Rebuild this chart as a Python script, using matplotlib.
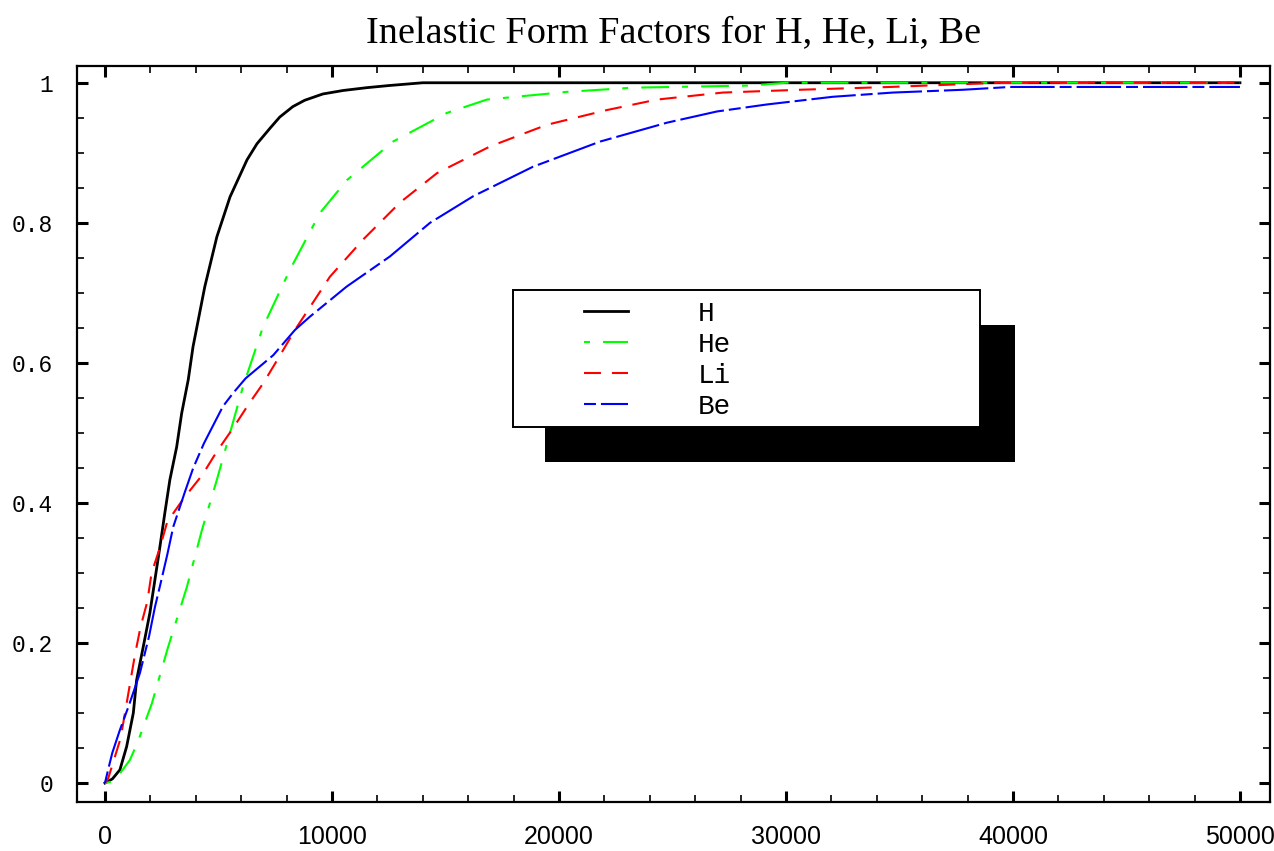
import matplotlib
matplotlib.use("Agg")
import matplotlib.pyplot as plt
from matplotlib.patches import Rectangle

# values
h_x = [0, 330, 660, 955, 1250, 1395, 1690, 1980, 2200, 2420, 2640, 2860, 3160, 3380,
       3670, 3880, 4400, 4930, 5510, 6260, 6700, 7270, 7700, 8280, 8800, 9600, 10500,
       11540, 12500, 14000, 20000, 30000, 40000, 50000]
h_y = [0, 0.006, 0.019, 0.052, 0.10, 0.147, 0.195, 0.243, 0.29, 0.337, 0.386, 0.433,
       0.48, 0.528, 0.576, 0.623, 0.709, 0.78, 0.837, 0.89, 0.913, 0.935, 0.951, 0.966,
       0.975, 0.984, 0.989, 0.993, 0.996, 1.0, 1.0, 1.0, 1.0, 1.0]

he_x = [0, 300, 530, 1100, 1450, 2070, 2780, 3610, 4270, 4930, 5510, 6080, 6960, 8150,
        9470, 10660, 12690, 15070, 16830, 20350, 23260, 28410, 30000, 40000, 50000]
he_y = [0, 0.002, 0.008, 0.033, 0.059, 0.114, 0.194, 0.28, 0.361, 0.433, 0.5, 0.566,
        0.651, 0.733, 0.814, 0.861, 0.916, 0.957, 0.976, 0.987, 0.993, 0.996, 1.0,
        1.0, 1.0]

li_x = [0, 147, 690, 1057, 1320, 1570, 1865, 2055, 2420, 2745, 3480, 4290, 4920, 5650,
        6310, 6975, 7700, 8370, 9910, 11370, 13000, 14630, 16960, 19470, 22110, 24320,
        27220, 30620, 34580, 39400, 45000, 50000]
li_y = [0, 0.007, 0.064, 0.133, 0.183, 0.223, 0.259, 0.3, 0.336, 0.373, 0.407, 0.44,
        0.473, 0.507, 0.54, 0.571, 0.610, 0.647, 0.723, 0.776, 0.829, 0.871, 0.909,
        0.94, 0.961, 0.976, 0.986, 0.99, 0.994, 1.0, 1.0, 1.0]

be_x = [0, 147, 323, 660, 1057, 1540, 1940, 2200, 2450, 2745, 3010, 3525, 3890, 4360,
        4850, 5200, 5650, 6200, 7415, 8370, 9030, 10650, 12555, 14320, 16225, 18850,
        21810, 24760, 26960, 29160, 32070, 34710, 37800, 39870, 45000, 50000]
be_y = [0, 0.02, 0.043, 0.076, 0.111, 0.157, 0.209, 0.251, 0.285, 0.326, 0.366, 0.416,
        0.45, 0.485, 0.516, 0.538, 0.557, 0.578, 0.611, 0.647, 0.666, 0.709, 0.752,
        0.8, 0.838, 0.88, 0.916, 0.943, 0.959, 0.969, 0.98, 0.986, 0.99, 0.994, 0.994,
        0.994]

x_ticks = [0, 10000, 20000, 30000, 40000, 50000]
x_tick_labels = ["0", "10000", "20000", "30000", "40000", "50000"]
y_ticks = [0, 0.2, 0.4, 0.6, 0.8, 1.0]
y_tick_labels = ["0", "0.2", "0.4", "0.6", "0.8", "1"]

plt.rcParams["lines.scale_dashes"] = False

fig = plt.figure(figsize=(12.74, 8.51), dpi=100)
ax = fig.add_axes([0.0604, 0.0576, 0.9364, 0.8649])

ax.plot(h_x, h_y, color="black", lw=2.0, label="H")
ax.plot(he_x, he_y, color="#00ff00", lw=1.5, dashes=[4.3, 9.4, 20, 9.4], label="He")
ax.plot(li_x, li_y, color="#ff0000", lw=1.5, dashes=[12.2, 7.9], label="Li")
ax.plot(be_x, be_y, color="#0000ff", lw=1.5, dashes=[8.6, 3.6, 32, 3.6], label="Be")

ax.set_xlim(-1233, 51320)
ax.set_ylim(-0.027, 1.024)

ax.set_xticks(x_ticks)
ax.set_xticklabels(x_tick_labels, fontfamily="Liberation Sans", fontsize=18)
ax.set_yticks(y_ticks)
ax.set_yticklabels(y_tick_labels, fontfamily="Liberation Mono", fontsize=16.5)
ax.set_xticks(range(0, 50001, 2000), minor=True)
ax.set_yticks([i * 0.05 for i in range(21)], minor=True)

ax.tick_params(which="both", direction="in", top=True, right=True, color="black")
ax.tick_params(which="major", length=8, width=2.2)
ax.tick_params(which="minor", length=5, width=1.2)
ax.tick_params(axis="x", which="major", pad=16.5)
ax.tick_params(axis="y", which="major", pad=17)
for s in ax.spines.values():
    s.set_linewidth(1.6)

ax.set_title("Inelastic Form Factors for H, He, Li, Be", fontfamily="Liberation Serif",
             fontsize=27.5, pad=17)

# legend box with its black drop shadow
ax.add_patch(Rectangle((0.4278, 0.4571), 0.3689, 0.161, transform=fig.transFigure,
                       facecolor="black", edgecolor="none", clip_on=False, zorder=4))
ax.add_patch(Rectangle((0.4027, 0.4982), 0.3666, 0.161, transform=fig.transFigure,
                       facecolor="white", edgecolor="black", lw=1.4, clip_on=False,
                       zorder=5))
leg = ax.legend(loc="upper left", bbox_to_anchor=(584 / 1274, 1 - 301 / 851),
                bbox_transform=fig.transFigure, frameon=False, borderpad=0,
                borderaxespad=0, handlelength=1.58, handletextpad=2.52,
                labelspacing=0.18, prop={"family": "Liberation Mono", "size": 20})
leg.set_zorder(6)

fig.savefig("out.png", dpi=100)
